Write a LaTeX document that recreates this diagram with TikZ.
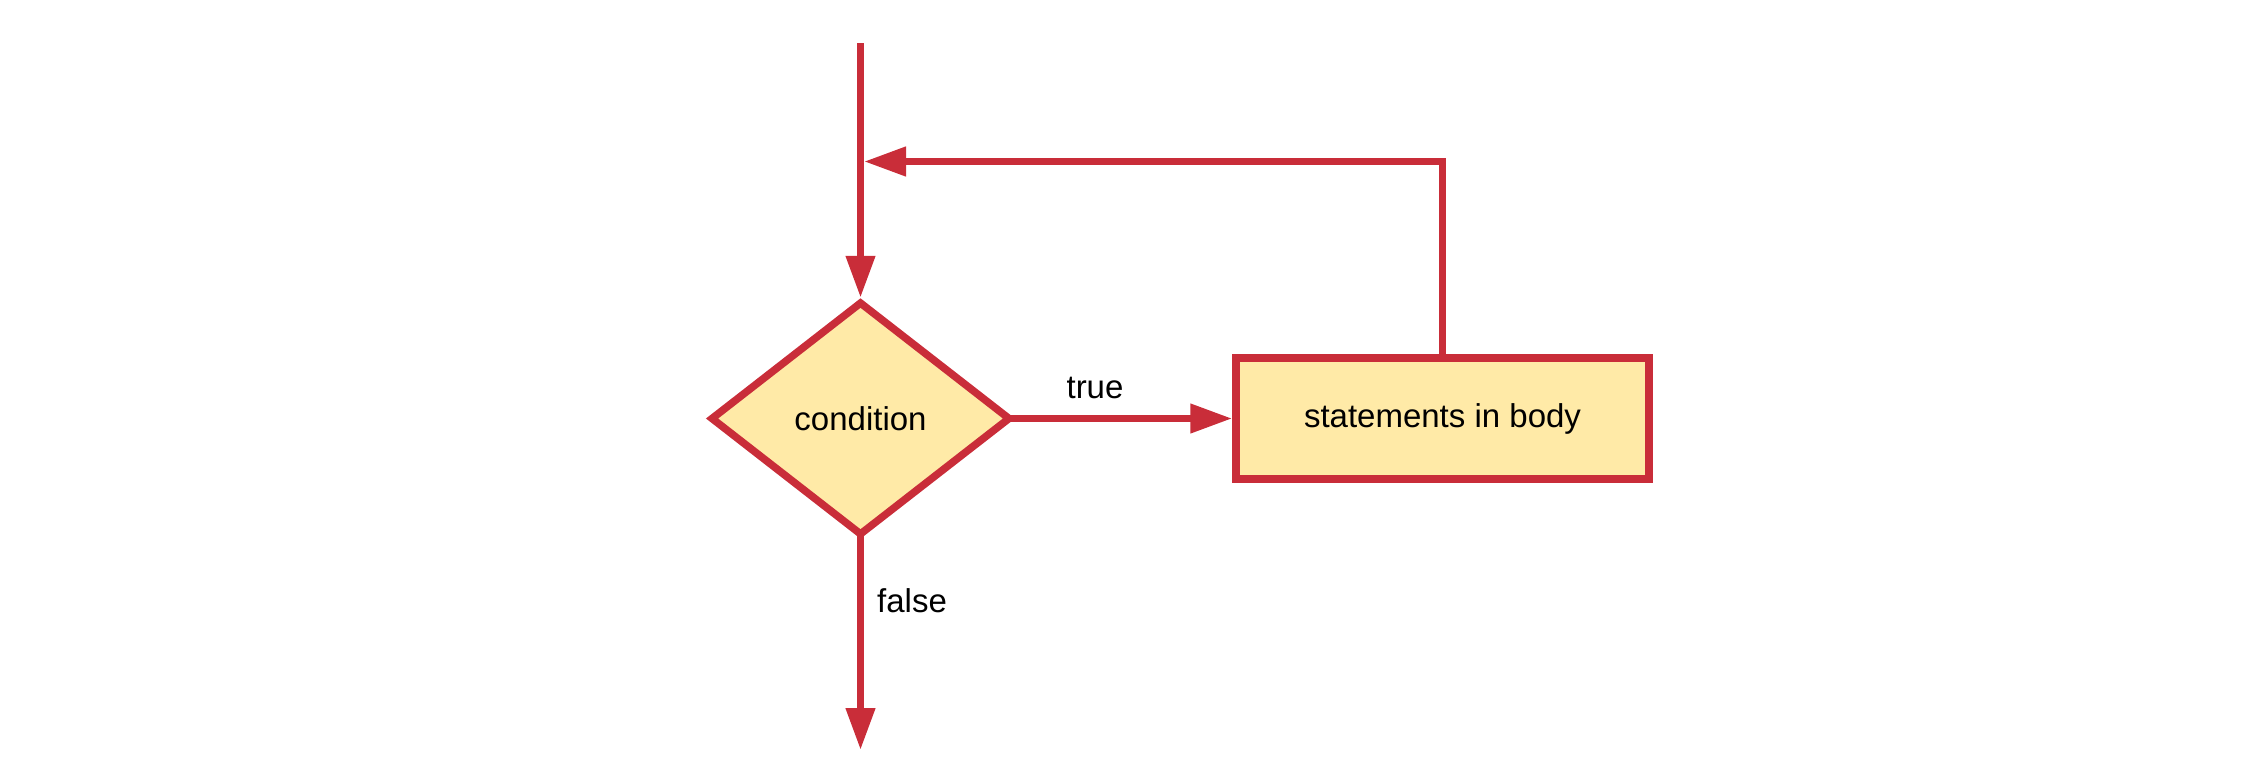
\documentclass[tikz,border=0pt]{standalone}
\usepackage{fontspec}
\setmainfont{Liberation Sans}
\usetikzlibrary{shapes.geometric,arrows.meta}
\definecolor{lred}{HTML}{C92D39}
\definecolor{lfill}{HTML}{FFEAA7}
\tikzset{
  flow/.style={draw=lred, line width=7.5pt, fill=lfill, inner sep=0pt, font=\fontsize{33}{40}\selectfont},
  conn/.style={draw=lred, line width=7.5pt, -{Triangle[length=42pt,width=28pt]}},
  lbl/.style={font=\fontsize{33}{40}\selectfont, inner sep=0pt}
}
\begin{document}
\begin{tikzpicture}[x=1pt,y=-1pt]
\useasboundingbox (0,0) rectangle (2244,782);
\node[flow, diamond, aspect=1.282, minimum width=300pt, minimum height=234pt] (cond) at (860.5,418.5) {condition};
\node[flow, rectangle, minimum width=413pt, minimum height=121pt] (body) at (1442.5,418.5) {statements in body};
\coordinate (start) at (860.5,43);
\coordinate (join) at (864,161.5);
\coordinate (exit) at (860.5,750);
\draw[conn] (start) -- (cond.north);
\draw[conn] ([xshift=-8pt]cond.east) -- (body.west);
\draw[conn] (body.north) |- (join);
\draw[conn] ([yshift=8pt]cond.south) -- (exit);
\node[lbl, anchor=base] (tl) at (1095,398) {true};
\node[lbl, anchor=base west] (fl) at (877,612) {false};
\end{tikzpicture}
\end{document}
